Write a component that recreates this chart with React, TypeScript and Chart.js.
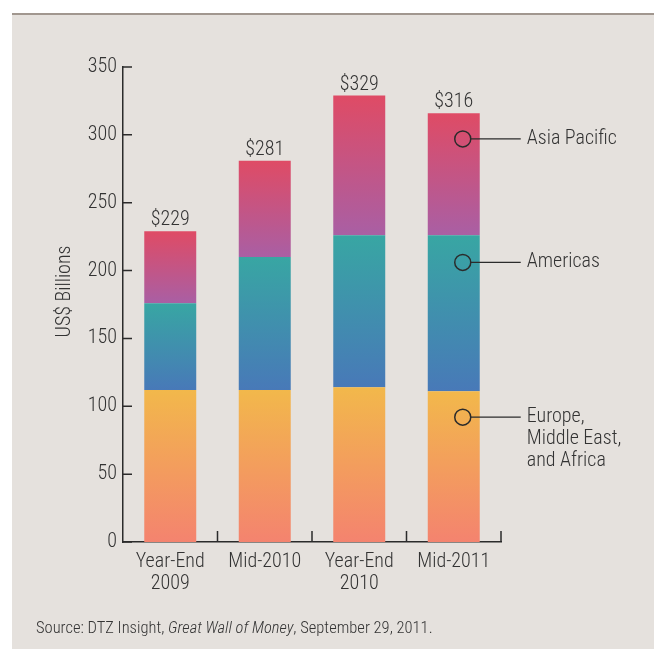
import React, { useEffect, useRef } from 'react';
import { Chart, registerables } from 'chart.js';

Chart.register(...registerables);

// ---- data ----
const categories: string[][] = [['Year-End', '2009'], ['Mid-2010'], ['Year-End', '2010'], ['Mid-2011']];
const seriesNames = ['Europe, Middle East, and Africa', 'Americas', 'Asia Pacific'];
const emeaValues = [112, 112, 114, 111];
const americasValues = [64, 98, 112, 115];
const asiaPacificValues = [53, 71, 103, 90];
const yTickValues = [0, 50, 100, 150, 200, 250, 300, 350];
const legendLines = [['Europe,', 'Middle East,', 'and Africa'], ['Americas'], ['Asia Pacific']];
const legendAnchorValues = [92, 206, 297];
const yAxisTitle = 'US$ Billions';
const sourcePlain1 = 'Source: DTZ Insight, ';
const sourceItalic = 'Great Wall of Money';
const sourcePlain2 = ', September 29, 2011.';

// ---- styles ----
const FONT = "'Roboto Condensed', Roboto, sans-serif";
const WEIGHT = 300;
const TEXT = '#333333';
const AXIS = '#2b2b2b';
const PANEL_BG = '#e5e1dd';
const gradientStops = [
  ['#f2b84b', '#f4836f'],
  ['#38a6a3', '#4879b8'],
  ['#df4b65', '#a95fa4'],
];

const series = [emeaValues, americasValues, asiaPacificValues];

function segmentGradient(context: any, dsIndex: number) {
  const chart = context.chart;
  const y = chart.scales && chart.scales.y;
  const stops = gradientStops[dsIndex];
  if (!y || context.type !== 'data' || y.height == null) return stops[0];
  const i = context.dataIndex;
  let base = 0;
  for (let k = 0; k < dsIndex; k++) base += series[k][i];
  const top = base + series[dsIndex][i];
  const y0 = y.getPixelForValue(top);
  const y1 = y.getPixelForValue(base);
  if (!isFinite(y0) || !isFinite(y1)) return stops[0];
  const g = chart.ctx.createLinearGradient(0, y0, 0, y1);
  g.addColorStop(0, stops[0]);
  g.addColorStop(1, stops[1]);
  return g;
}

const overlayPlugin = {
  id: 'overlay',
  afterDraw(chart: any) {
    const { ctx, chartArea } = chart;
    const x = chart.scales.x;
    const y = chart.scales.y;
    ctx.save();

    // inward y ticks
    ctx.strokeStyle = AXIS;
    ctx.lineWidth = 1.5;
    ctx.beginPath();
    for (const v of yTickValues) {
      const py = y.getPixelForValue(v);
      ctx.moveTo(chartArea.left, py);
      ctx.lineTo(chartArea.left + 9, py);
    }
    // category boundary ticks on x axis
    for (let i = 0; i < categories.length; i++) {
      const px = x.getPixelForValue(i + 0.5);
      ctx.moveTo(px, chartArea.bottom);
      ctx.lineTo(px, chartArea.bottom - 11);
    }
    ctx.stroke();

    // total labels
    const lastMeta = chart.getDatasetMeta(series.length - 1);
    ctx.fillStyle = TEXT;
    ctx.font = `${WEIGHT} 20px ${FONT}`;
    ctx.textAlign = 'center';
    ctx.textBaseline = 'alphabetic';
    for (let i = 0; i < categories.length; i++) {
      const total = series.reduce((s, arr) => s + arr[i], 0);
      const el = lastMeta.data[i];
      ctx.fillText('$' + total, el.x, el.y - 6);
    }

    // annotation legend on the last bar
    const lastIdx = categories.length - 1;
    ctx.textAlign = 'left';
    ctx.textBaseline = 'middle';
    for (let d = 0; d < series.length; d++) {
      const el = chart.getDatasetMeta(d).data[lastIdx];
      const cx = el.x + 9;
      const cy = y.getPixelForValue(legendAnchorValues[d]);
      const lineEnd = el.x + el.width / 2 + 41;
      ctx.strokeStyle = AXIS;
      ctx.lineWidth = 1.5;
      ctx.beginPath();
      ctx.arc(cx, cy, 8, 0, Math.PI * 2);
      ctx.stroke();
      ctx.lineWidth = 1.3;
      ctx.beginPath();
      ctx.moveTo(cx + 8, cy);
      ctx.lineTo(lineEnd, cy);
      ctx.stroke();
      const lines = legendLines[d];
      lines.forEach((t, li) => {
        ctx.fillText(t, lineEnd + 6, cy + li * 22);
      });
    }

    // y axis title
    ctx.save();
    ctx.translate(65, (chartArea.top + chartArea.bottom) / 2 - 13);
    ctx.rotate(-Math.PI / 2);
    ctx.textAlign = 'center';
    ctx.textBaseline = 'middle';
    ctx.font = `${WEIGHT} 20px ${FONT}`;
    ctx.fillText(yAxisTitle, 0, 0);
    ctx.restore();

    // source line
    ctx.textAlign = 'left';
    ctx.textBaseline = 'alphabetic';
    let sx = 36;
    const sy = 633;
    ctx.font = `${WEIGHT} 16.5px ${FONT}`;
    ctx.fillText(sourcePlain1, sx, sy);
    sx += ctx.measureText(sourcePlain1).width;
    ctx.font = `italic ${WEIGHT} 16.5px ${FONT}`;
    ctx.fillText(sourceItalic, sx, sy);
    sx += ctx.measureText(sourceItalic).width;
    ctx.font = `${WEIGHT} 16.5px ${FONT}`;
    ctx.fillText(sourcePlain2, sx, sy);

    ctx.restore();
  },
};

export default function App() {
  const ref = useRef<HTMLCanvasElement | null>(null);
  useEffect(() => {
    if (!ref.current) return;
    const chart = new Chart(ref.current, {
      type: 'bar',
      data: {
        labels: categories as any,
        datasets: series.map((values, d) => ({
          label: seriesNames[d],
          data: values,
          backgroundColor: (c: any) => segmentGradient(c, d),
          borderWidth: 0,
          barPercentage: 0.55,
          categoryPercentage: 1.0,
        })),
      },
      options: {
        responsive: false,
        animation: false,
        devicePixelRatio: 1,
        layout: { padding: { top: 67, right: 153, bottom: 47, left: 0 } },
        plugins: { legend: { display: false }, tooltip: { enabled: false } },
        scales: {
          x: {
            stacked: true,
            grid: { display: false, drawTicks: false },
            border: { display: true, color: AXIS, width: 1.5 },
            ticks: {
              font: { family: FONT, size: 20, weight: WEIGHT, lineHeight: 1.1 },
              color: TEXT,
              padding: 9,
              maxRotation: 0,
              autoSkip: false,
            },
            afterFit: (s: any) => { s.height = 60; },
          },
          y: {
            stacked: true,
            min: 0,
            max: 350,
            grid: { display: false, drawTicks: false },
            border: { display: true, color: AXIS, width: 1.5 },
            ticks: {
              stepSize: 50,
              font: { family: FONT, size: 20, weight: WEIGHT },
              color: TEXT,
              padding: 6,
            },
            afterFit: (s: any) => { s.width = 123; },
          },
        },
      },
      plugins: [overlayPlugin],
    } as any);
    return () => chart.destroy();
  }, []);

  return (
    <div style={{ position: 'absolute', left: 0, top: 0, width: 654, height: 649, background: '#ffffff', overflow: 'hidden' }}>
      <div style={{ position: 'absolute', left: 12, top: 13, width: 642, height: 636, background: PANEL_BG, borderTop: '2px solid #a1978f', boxSizing: 'border-box' }} />
      <canvas ref={ref} width={654} height={649} style={{ position: 'absolute', left: 0, top: 0, display: 'block' }} />
    </div>
  );
}
